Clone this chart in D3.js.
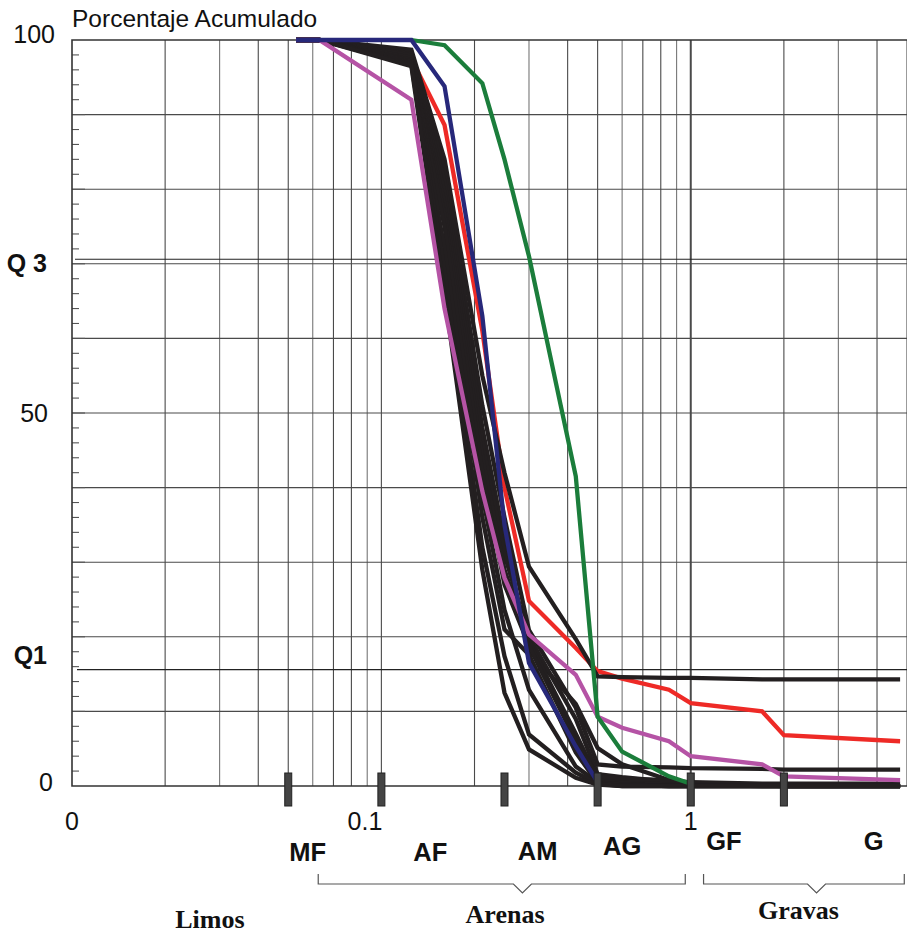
<!DOCTYPE html>
<html>
<head>
<meta charset="utf-8">
<script src="https://cdn.jsdelivr.net/npm/d3@7"></script>
<style>
  body { margin: 0; background: #fff; }
  svg { display: block; }
</style>
</head>
<body>
<script>
// sieve openings (mm) and cumulative % passing for each sample
const sieves = [0.053, 0.063, 0.125, 0.16, 0.212, 0.25, 0.3, 0.425, 0.5, 0.6, 0.85, 1, 1.7, 2, 4.75]

const blackSamples = [
  [100, 100, 98.7, 84, 55, 42, 29.4, 19.7, 14.7, 14.6, 14.5, 14.5, 14.3, 14.3, 14.3],
  [100, 100, 98.4, 82.5, 51, 36, 20.9, 10.5, 2.9, 2.6, 2.5, 2.4, 2.3, 2.2, 2.2],
  [100, 100, 98.1, 81, 48, 33, 18.2, 11, 5.1, 2.9, 0.8, 0.3, 0.1, 0, 0],
  [100, 100, 97.9, 79.5, 46, 31, 20, 9, 1.6, 1.2, 0.6, 0.3, 0.2, 0, 0],
  [100, 100, 97.6, 78, 44, 29, 19.3, 7, 1.0, 0.6, 0.4, 0.2, 0, 0, 0],
  [100, 100, 97.3, 76.5, 42, 27, 18.8, 6, 1.3, 1.0, 0.8, 0.5, 0.3, 0.3, 0.3],
  [100, 100, 97.1, 75, 39, 23.6, 12.9, 2.6, 0.5, 0.2, 0, 0, 0, 0, 0],
  [100, 100, 96.9, 72, 36, 21, 17.6, 4.5, 0.4, 0.2, 0, 0, 0, 0, 0],
  [100, 100, 96.7, 69, 32, 17.4, 6.9, 1.8, 0.3, 0, 0, 0, 0, 0, 0],
  [100, 100, 96.5, 66, 29, 12.5, 4.9, 1.1, 0.2, 0, 0, 0, 0, 0, 0]
]
const redSample = [100, 100, 97.5, 88.6, 61, 40, 24.8, 18.5, 15.4, 14.4, 12.9, 11.1, 10.0, 6.8, 6.0]
const magentaSample = [100, 100, 92, 64, 39.5, 27.9, 20.3, 14.9, 9.3, 7.8, 6.0, 4.0, 2.9, 1.3, 0.8]
const greenSample = [null, null, 100, 99.3, 94.2, 84, 71, 41.5, 9.3, 4.6, 1.3, 0.3, null, null, null]
const blueSample = [100, 100, 100, 93.8, 63, 35, 16.5, 5.3, 0.5, null, null, null, null, null, null]

const yLabels = ['100', '50', '0']
const yLabelVals = [100, 50, 0]
const quartileLabels = ['Q 3', 'Q1']
const quartileVals = [70.6, 15.6]
const xLabels = ['0', '0.1', '1']
const xLabelVals = [0.01, 0.1, 1]
const classBounds = [0.05, 0.1, 0.25, 0.5, 1, 2]
const classNames = ['MF', 'AF', 'AM', 'AG', 'GF', 'G']
const classCenters = [0.0578, 0.144, 0.32, 0.6, 1.28, 3.9]
const groupNames = ['Limos', 'Arenas', 'Gravas']
const groupCenters = [0.0279, 0.251, 2.23]
const groupRanges = [null, [0.0625, 0.96], [1.1, 4.9]]
const braceTips = [null, 0.2857, 2.55]

const width = 907, height = 933
const plotLeft = 72, plotRight = 907, plotTop = 40, plotBottom = 786
const gridColor = '#4a4a4a'

const svg = d3.select('body').append('svg')
  .attr('width', width)
  .attr('height', height)
  .style('font-family', '"Liberation Sans", Arial, sans-serif')

const x = d3.scaleLog().domain([0.01, 5]).range([plotLeft, plotRight])
const y = d3.scaleLinear().domain([0, 100]).range([plotBottom, plotTop])

// vertical grid (log)
const xGrid = x.ticks().filter(d => d > 0.01)
svg.append('g').selectAll('line').data(xGrid).join('line')
  .attr('x1', d => x(d)).attr('x2', d => x(d))
  .attr('y1', plotTop).attr('y2', plotBottom)
  .attr('stroke', (d, i) => i % 3 === 1 ? '#777' : gridColor)
  .attr('stroke-width', d => d === 1 ? 2 : 1.1)

// horizontal grid every 10%
svg.append('g').selectAll('line').data(d3.range(10, 100, 10)).join('line')
  .attr('x1', plotLeft).attr('x2', plotRight)
  .attr('y1', d => y(d)).attr('y2', d => y(d))
  .attr('stroke', gridColor)
  .attr('stroke-width', 1.1)

// quartile lines
svg.append('g').selectAll('line').data(quartileVals).join('line')
  .attr('x1', (d, i) => plotLeft + 3 + i * 2).attr('x2', plotRight)
  .attr('y1', d => y(d)).attr('y2', d => y(d))
  .attr('stroke', '#222')
  .attr('stroke-width', 1.1)

// minor ticks on the left axis every 2%
svg.append('g').selectAll('line').data(d3.range(2, 100, 2)).join('line')
  .attr('x1', plotLeft).attr('x2', d => d % 10 === 0 ? plotLeft + 13 : plotLeft + 7)
  .attr('y1', d => y(d)).attr('y2', d => y(d))
  .attr('stroke', '#555')
  .attr('stroke-width', 1.1)

// frame (left, top, bottom)
svg.append('path')
  .attr('d', `M${plotRight},${plotTop}H${plotLeft}V${plotBottom}H${plotRight}`)
  .attr('fill', 'none')
  .attr('stroke', '#333')
  .attr('stroke-width', 1.6)

// sample curves
const line = d3.line()
  .defined(d => d[1] !== null)
  .x(d => x(d[0]))
  .y(d => y(d[1]))

const curves = svg.append('g')
  .attr('fill', 'none')
  .attr('stroke-width', 4.3)
  .attr('stroke-linejoin', 'miter')
  .attr('stroke-miterlimit', 3)

const drawCurve = (vals, color) => curves.append('path')
  .attr('d', line(sieves.map((s, i) => [s, vals[i]])))
  .attr('stroke', color)

drawCurve(redSample, '#ee2a26')
blackSamples.forEach(v => drawCurve(v, '#231f20'))
drawCurve(magentaSample, '#b553a5')
drawCurve(greenSample, '#1b7d3b')
drawCurve(blueSample, '#27287a')

// class boundary markers
svg.append('g').selectAll('rect').data(classBounds).join('rect')
  .attr('x', d => x(d) - 3.5)
  .attr('y', plotBottom - 13)
  .attr('width', 7)
  .attr('height', 33)
  .attr('fill', '#444')
  .attr('stroke', '#222')
  .attr('stroke-width', 1)

// title
svg.append('text')
  .attr('x', plotLeft)
  .attr('y', 27)
  .attr('font-size', 24.5)
  .attr('fill', '#111')
  .text('Porcentaje Acumulado')

// y labels
const yNudge = [[55, 9], [48, 15], [53, 11]]
svg.append('g').selectAll('text').data(yLabels).join('text')
  .attr('x', (d, i) => yNudge[i][0])
  .attr('y', (d, i) => y(yLabelVals[i]) + yNudge[i][1] - 6)
  .attr('text-anchor', 'end')
  .attr('font-size', 25)
  .attr('fill', '#111')
  .text(d => d)

const qBase = [272, 664]
svg.append('g').selectAll('text').data(quartileLabels).join('text')
  .attr('x', 47)
  .attr('y', (d, i) => qBase[i])
  .attr('text-anchor', 'end')
  .attr('font-size', 25)
  .attr('font-weight', 'bold')
  .attr('fill', '#111')
  .text(d => d)

// x labels
const xAnchor = ['middle', 'end', 'middle']
svg.append('g').selectAll('text').data(xLabels).join('text')
  .attr('x', (d, i) => x(xLabelVals[i]) + (i === 1 ? 1 : 0))
  .attr('y', 830)
  .attr('text-anchor', (d, i) => xAnchor[i])
  .attr('font-size', 25)
  .attr('fill', '#111')
  .text(d => d)

// class names
const classBase = [861, 861, 860, 855, 850, 850]
svg.append('g').selectAll('text').data(classNames).join('text')
  .attr('x', (d, i) => x(classCenters[i]))
  .attr('y', (d, i) => classBase[i])
  .attr('text-anchor', 'middle')
  .attr('font-size', 25.5)
  .attr('font-weight', 'bold')
  .attr('fill', '#111')
  .text(d => d)

// braces
groupRanges.forEach((r, i) => {
  if (!r) return
  const x0 = x(r[0]), x1 = x(r[1]), xm = x(braceTips[i])
  svg.append('path')
    .attr('d', `M${x0},874V884H${xm - 9}L${xm},893L${xm + 9},884H${x1}V874`)
    .attr('fill', 'none')
    .attr('stroke', '#555')
    .attr('stroke-width', 1.2)
})

// group names
const groupBase = [928, 923, 919]
svg.append('g').selectAll('text').data(groupNames).join('text')
  .attr('x', (d, i) => x(groupCenters[i]))
  .attr('y', (d, i) => groupBase[i])
  .attr('text-anchor', 'middle')
  .attr('font-family', '"Liberation Serif", "Times New Roman", serif')
  .attr('font-size', 26)
  .attr('font-weight', 'bold')
  .attr('fill', '#111')
  .text(d => d)
</script>
</body>
</html>
